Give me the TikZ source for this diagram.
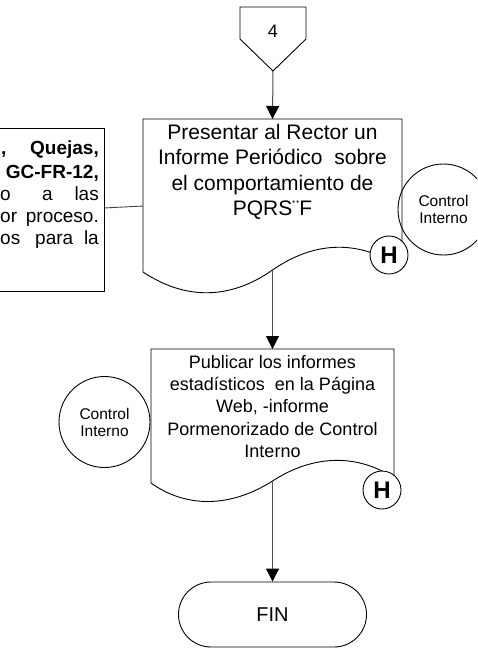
\documentclass[tikz,border=0pt]{standalone}
\usepackage{fontspec}
\setmainfont{Liberation Sans}
\usetikzlibrary{arrows.meta}
\tikzset{
  shapeline/.style={draw=black, line width=0.9pt},
  flow/.style={draw=black!70, line width=1pt, -{Triangle[width=13pt,length=13pt,color=black]}},
  link/.style={draw=black!75, line width=0.9pt},
  ctrl/.style={circle, draw=black, line width=0.9pt, minimum size=91pt, inner sep=0pt, align=center, font=\fontsize{15.5}{17}\selectfont},
  hmark/.style={circle, draw=black, line width=0.9pt, fill=white, minimum size=38pt, inner sep=0pt, font=\fontsize{24}{24}\bfseries\selectfont},
  lbtext/.style={inner sep=0pt, font=\fontsize{19}{22}\selectfont},
  lbbold/.style={inner sep=0pt, font=\fontsize{19}{22}\bfseries\selectfont},
}
\begin{document}
\begin{tikzpicture}[x=1pt, y=-1pt]
\useasboundingbox (0,0) rectangle (477,648);
\clip (0,0) rectangle (477,648);

% off-page connector 4
\draw[shapeline] (240,7) -- (306,7) -- (306,39) -- (273,71) -- (240,39) -- cycle;
\coordinate (c4) at (273,71);
\node[inner sep=0pt, font=\fontsize{18}{18}\selectfont] (n4) at (273,31) {4};

% left (cut) box
\draw[shapeline] (-5,128) -- (104,128) -- (104,291) -- (-5,291);
\coordinate (lbR) at (104,208);
\node[lbbold, anchor=base west] (lb1a) at (1,154) {,};
\node[lbbold, anchor=base east] (lb1b) at (99,154) {Quejas,};
\node[lbbold, anchor=base east] (lb2) at (99,178) {GC-FR-12,};
\node[lbtext, anchor=base west] (lb3a) at (0,200) {o};
\node[lbtext, anchor=base west] (lb3b) at (42,200) {a};
\node[lbtext, anchor=base east] (lb3c) at (99,200) {las};
\node[lbtext, anchor=base west] (lb4a) at (0,222) {or};
\node[lbtext, anchor=base east] (lb4b) at (99,222) {proceso.};
\node[lbtext, anchor=base west] (lb5a) at (0,244) {os};
\node[lbtext, anchor=base west] (lb5b) at (35,244) {para};
\node[lbtext, anchor=base east] (lb5c) at (99,244) {la};

% control interno 1
\node[ctrl] (ci1) at (443.5,209.5) {Control\\Interno};

% document 1
\coordinate (d1top) at (272.5,119);
\coordinate (d1left) at (143,206);
\coordinate (d1bot) at (272.5,270);
\draw[shapeline] (143,272) -- (143,119) -- (402,119) -- (402,268)
  .. controls (360,240) and (316,240) .. (272.5,270)
  .. controls (230,300) and (185,300) .. (143,272);
\node[inner sep=0pt, align=center, font=\fontsize{21}{25.5}\selectfont] (t1) at (272.5,172)
  {Presentar al Rector un\\Informe Periódico\ \ sobre\\el comportamiento de\\PQRS¨F};
\node[hmark] (h1) at (389,255) {H};

% document 2
\coordinate (d2top) at (272.5,349);
\coordinate (d2bot) at (272.5,482);
\draw[shapeline] (151,483) -- (151,349) -- (394,349) -- (394,478)
  .. controls (358,454) and (314,454) .. (272.5,481)
  .. controls (230,508) and (186,508) .. (151,483);
\node[inner sep=0pt, align=center, font=\fontsize{18}{22.3}\selectfont] (t2) at (272.5,406.5)
  {Publicar los informes\\estadísticos\ \ en la Página\\Web, -informe\\Pormenorizado de Control\\Interno};
\node[hmark] (h2) at (382,490) {H};

% control interno 2
\node[ctrl] (ci2) at (104.5,422) {Control\\Interno};

% FIN
\node[draw=black, line width=0.9pt, rounded corners=32.5pt, minimum width=188pt, minimum height=65pt, inner sep=0pt, font=\fontsize{20}{20}\selectfont] (fin) at (272.5,614.5) {FIN};

% connectors
\draw[flow] (c4) -- (d1top);
\draw[link] (lbR) -- (d1left);
\draw[flow] (d1bot) -- (d2top);
\draw[flow] (d2bot) -- (fin.north);
\end{tikzpicture}
\end{document}
